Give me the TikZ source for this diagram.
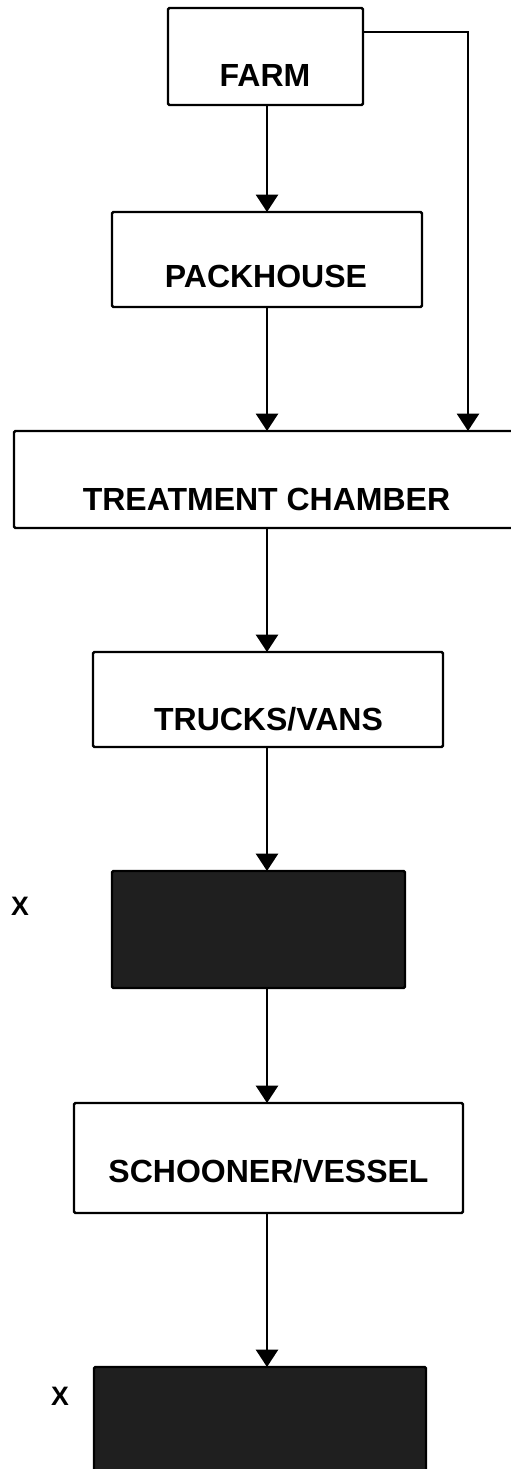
\documentclass[tikz,border=0pt]{standalone}
\usepackage{fontspec}
\setmainfont{Liberation Sans}
\usetikzlibrary{arrows.meta}
\begin{document}
\begin{tikzpicture}[x=0.75pt,y=-0.75pt,
  box/.style={draw=black, line width=1.8pt, rounded corners=1pt, fill=white, inner sep=0pt, outer sep=0pt},
  darkbox/.style={draw=black, line width=1.8pt, rounded corners=1pt, fill=black!88, inner sep=0pt, outer sep=0pt},
  lbl/.style={anchor=base, inner sep=0pt, font=\fontsize{24}{28}\selectfont\bfseries},
  xmark/.style={anchor=base, inner sep=0pt, font=\fontsize{20}{22}\selectfont\bfseries},
  arr/.style={line width=1.8pt, -{Triangle[width=16.5pt,length=13pt]}},
  conn/.style={line width=1.8pt}]
\useasboundingbox (0,0) rectangle (510,1469);
% boxes
\node[box, minimum width=146.25pt, minimum height=72.75pt] (farm) at (265.5,56.5) {};
\node[box, minimum width=232.5pt, minimum height=71.25pt] (pack) at (267,259.5) {};
\node[box, minimum width=390pt, minimum height=72.75pt] (treat) at (274,479.5) {};
\node[box, minimum width=262.5pt, minimum height=71.25pt] (truck) at (268,699.5) {};
\node[darkbox, minimum width=219.75pt, minimum height=87.75pt] (dark1) at (258.5,929.5) {};
\node[box, minimum width=291.75pt, minimum height=82.5pt] (ship) at (268.5,1158) {};
\node[darkbox, minimum width=249pt, minimum height=97.5pt] (dark2) at (260,1432) {};
% labels
\node[lbl] (tfarm) at (265,87) {FARM};
\node[lbl] (tpack) at (266,288) {PACKHOUSE};
\node[lbl] (ttreat) at (266.5,510) {TREATMENT CHAMBER};
\node[lbl] (ttruck) at (268.5,730) {TRUCKS/VANS};
\node[lbl] (tship) at (268.5,1182) {SCHOONER/VESSEL};
\node[xmark] (x1) at (20,915) {X};
\node[xmark] (x2) at (60,1405) {X};
% connectors
\coordinate (col) at (267,0);
\coordinate (bend) at (468,32);
\draw[arr] (farm.south -| col) -- (pack.north -| col);
\draw[arr] (pack.south -| col) -- (treat.north -| col);
\draw[arr] (farm.east |- bend) -- (bend) -- (bend |- treat.north);
\draw[arr] (treat.south -| col) -- (truck.north -| col);
\draw[arr] (truck.south -| col) -- (dark1.north -| col);
\draw[arr] (dark1.south -| col) -- (ship.north -| col);
\draw[arr] (ship.south -| col) -- (dark2.north -| col);
\end{tikzpicture}
\end{document}
